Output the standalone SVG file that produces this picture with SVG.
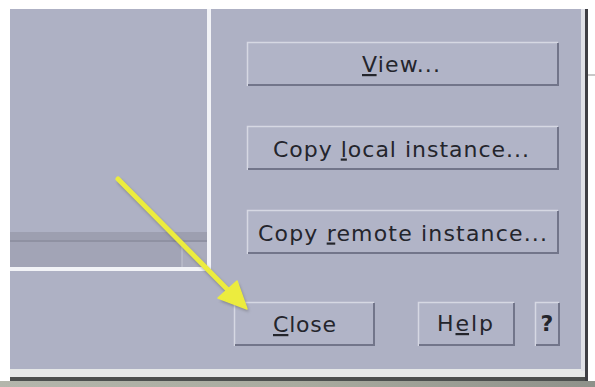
<svg xmlns="http://www.w3.org/2000/svg" width="595" height="387" viewBox="0 0 595 387">
<style>
.btn{fill:#b1b4c7;stroke:none}
.hl{stroke:#d6d8e3;stroke-width:1.5;fill:none}
.sh{stroke:#72758a;stroke-width:2;fill:none}
.lbl{font-family:"DejaVu Sans",sans-serif;font-size:22px;fill:#24252c}
.u{text-decoration:underline}
</style>
<defs>
<linearGradient id="bg" x1="0" y1="0" x2="1" y2="0">
<stop offset="0" stop-color="#b4b6ac"/><stop offset="0.5" stop-color="#a9ab9f"/><stop offset="1" stop-color="#8e918a"/>
</linearGradient>
<filter id="shadow" x="-20%" y="-20%" width="140%" height="140%"><feGaussianBlur stdDeviation="1.5"/></filter>
</defs>
<rect width="595" height="387" fill="#ffffff"/>
<rect x="0" y="381" width="595" height="6" fill="url(#bg)"/>
<rect x="10" y="377" width="578" height="4" fill="#4c4f4e"/>
<rect x="10" y="369" width="575" height="8" fill="#e6e8e8"/>
<rect x="585" y="9" width="3" height="372" fill="#3e3f44"/>
<rect x="581" y="9" width="4" height="362" fill="#dfe1e7"/>
<rect x="588" y="74" width="7" height="2" fill="#c8c8c8"/>
<rect x="10" y="9" width="571" height="360" fill="#aeb1c4"/>
<g id="list-panel">
<rect x="10" y="232" width="198" height="9" fill="#9d9fb0"/>
<rect x="10" y="240" width="198" height="2" fill="#8f91a2"/>
<rect x="10" y="242" width="198" height="25" fill="#a2a4b6"/>
<rect x="182" y="242" width="26" height="25" fill="#a9abbc"/>
<line x1="182" y1="242" x2="182" y2="267" stroke="#c4c6d2" stroke-width="1"/>
<rect x="207" y="9" width="4" height="263" fill="#f2f3f7"/>
<rect x="10" y="267" width="201" height="4" fill="#f2f3f7"/>
</g>
<g id="btn-view">
<rect class="btn" x="247" y="42" width="311" height="44"/>
<path class="hl" d="M247.5,86 V42.5 H558"/>
<path class="sh" d="M248,85 H558 V43"/>
<text class="lbl" x="362" y="72" textLength="78" lengthAdjust="spacing"><tspan class="u">V</tspan>iew...</text>
</g>
<g id="btn-copy-local">
<rect class="btn" x="247" y="126" width="311" height="44"/>
<path class="hl" d="M247.5,170 V126.5 H558"/>
<path class="sh" d="M248,169 H558 V127"/>
<text class="lbl" x="273" y="156.5" textLength="256" lengthAdjust="spacing">Copy <tspan class="u">l</tspan>ocal instance...</text>
</g>
<g id="btn-copy-remote">
<rect class="btn" x="247" y="210" width="311" height="44"/>
<path class="hl" d="M247.5,254 V210.5 H558"/>
<path class="sh" d="M248,253 H558 V211"/>
<text class="lbl" x="258" y="240.5" textLength="289" lengthAdjust="spacing">Copy <tspan class="u">r</tspan>emote instance...</text>
</g>
<g id="btn-close">
<rect class="btn" x="234" y="302" width="140" height="44"/>
<path class="hl" d="M234.5,346 V302.5 H374"/>
<path class="sh" d="M235,345 H374 V303"/>
<text class="lbl" x="273" y="332" textLength="63" lengthAdjust="spacing"><tspan class="u">C</tspan>lose</text>
</g>
<g id="btn-help">
<rect class="btn" x="418" y="302" width="96" height="44"/>
<path class="hl" d="M418.5,346 V302.5 H514"/>
<path class="sh" d="M419,345 H514 V303"/>
<text class="lbl" x="437" y="331" textLength="56" lengthAdjust="spacing">H<tspan class="u">e</tspan>lp</text>
</g>
<g id="btn-question">
<rect class="btn" x="535" y="302" width="24" height="44"/>
<path class="hl" d="M535.5,346 V302.5 H559"/>
<path class="sh" d="M536,345 H559 V303"/>
<text class="lbl" x="547" y="331" style="font-weight:bold;text-anchor:middle">?</text>
</g>
<g id="connectors">
<g filter="url(#shadow)" opacity="0.45" transform="translate(2,3)">
<line x1="118" y1="179" x2="230" y2="292" stroke="#555" stroke-width="5" stroke-linecap="round"/>
<polygon points="247,309 218,298 237,281" fill="#555"/>
</g>
<line x1="118" y1="179" x2="230" y2="292" stroke="#ecec3e" stroke-width="5" stroke-linecap="round"/>
<polygon points="247,309 218,298 237,281" fill="#ecec3e" stroke="#ecec3e" stroke-width="1.5" stroke-linejoin="round"/>
</g>
</svg>
